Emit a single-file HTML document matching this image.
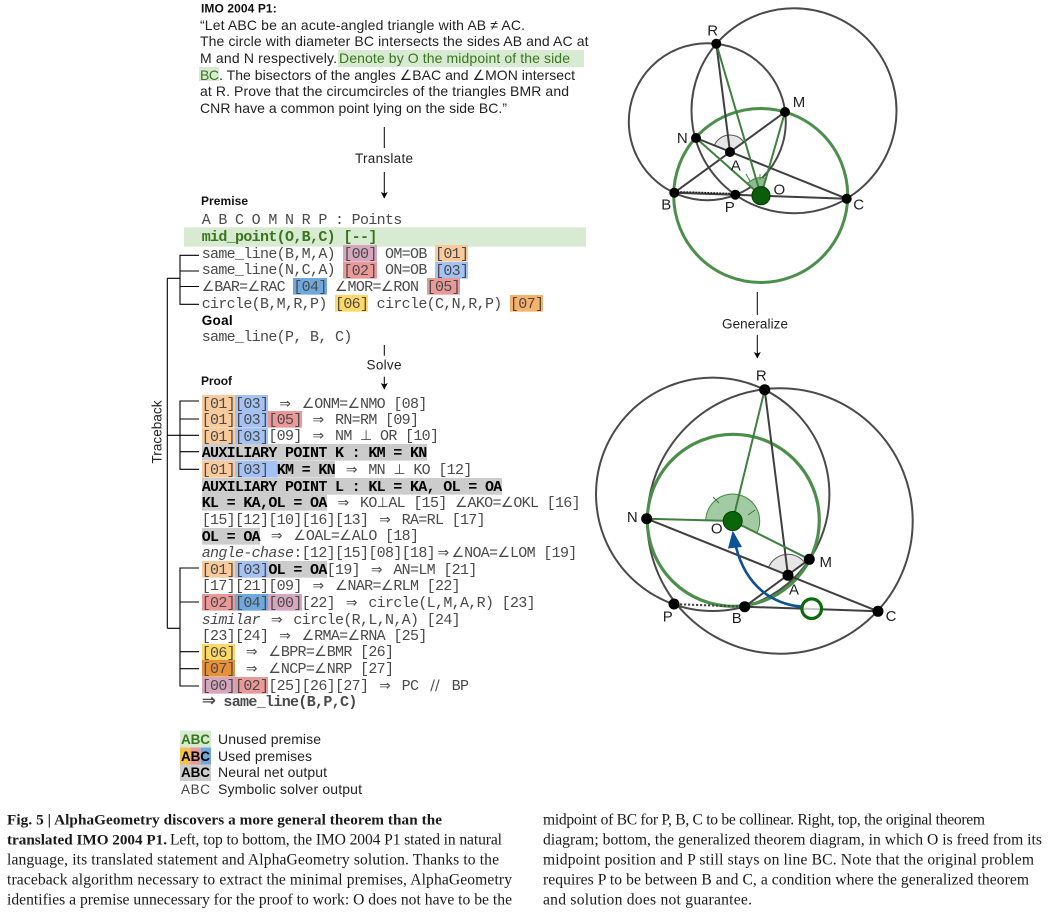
<!DOCTYPE html>
<html><head><meta charset="utf-8">
<style>
html,body{margin:0;padding:0;background:#fff;width:1057px;height:914px;overflow:hidden}
svg{position:absolute;left:0;top:0}
.l{position:absolute;left:201.7px;margin-top:1.7px;height:16.67px;font:15px/16.67px "Liberation Mono",monospace;letter-spacing:-.67px;color:#4a4a4a;white-space:pre}
.l span{background:linear-gradient(var(--c),var(--c)) 0 0/100% 16.67px no-repeat;padding-top:.83px}
.a,.i,.p,.z{display:inline-block;text-align:center;line-height:0;letter-spacing:0;font-style:normal}
.a{width:12.5px;font-size:14px;font-family:"Liberation Sans","DejaVu Sans",sans-serif}
.i{width:16.67px;font-size:13.89px;font-family:"DejaVu Sans",sans-serif}
.p{width:11.67px;font-size:13.89px;font-family:"DejaVu Sans",sans-serif}
.z{width:21.7px;font-size:17px;text-align:left;font-family:"DejaVu Sans",sans-serif}
.o{--c:#f9cb9c}.u{--c:#a4c2f4}.r{--c:#ea9999}.m{--c:#d5a6bd}.d{--c:#6fa8dc}.y{--c:#ffd966}.q{--c:#f6b26b}.w{--c:#e69138}
.g{--c:#ccc;color:#000;font-weight:bold}
em{font-style:italic}
</style></head><body>
<svg width="1057" height="914" viewBox="0 0 1057 914" font-family="'Liberation Sans',sans-serif">
<defs><marker id="ah" markerWidth="8" markerHeight="8" refX="6" refY="4" orient="auto" markerUnits="userSpaceOnUse"><path d="M0,0.5 L6.5,4 L0,7.5 L1.5,4 Z" fill="#000"/></marker></defs>

<!-- highlights -->
<rect x="338" y="50" width="246" height="17" fill="#d9ead3"/>
<rect x="199" y="67" width="20" height="14" fill="#d9ead3"/>
<rect x="184" y="227.3" width="402" height="19.4" fill="#d9ead3"/>

<!-- statement -->
<text x="201" y="12.7" font-size="12" font-weight="bold" fill="#111" textLength="75.7">IMO 2004 P1:</text>
<g font-size="14" fill="#222">
<text x="200" y="30" textLength="325">“Let ABC be an acute-angled triangle with AB ≠ AC.</text>
<text x="200" y="46" textLength="388.5">The circle with diameter BC intersects the sides AB and AC at</text>
<text x="200" y="63" textLength="137">M and N respectively.</text>
<text x="339" y="63" textLength="231" fill="#38761d">Denote by O the midpoint of the side</text>
<text x="200" y="80" textLength="19" fill="#38761d">BC</text>
<text x="219" y="80" textLength="356">. The bisectors of the angles ∠BAC and ∠MON intersect</text>
<text x="200" y="96" textLength="369">at R. Prove that the circumcircles of the triangles BMR and</text>
<text x="200" y="113" textLength="307">CNR have a common point lying on the side BC.”</text>
</g>

<!-- flow arrows -->
<g stroke="#000" stroke-width="1" fill="none">
<line x1="384.3" y1="127" x2="384.3" y2="148"/>
<line x1="384.3" y1="172" x2="384.3" y2="198" marker-end="url(#ah)"/>
<line x1="384.3" y1="345" x2="384.3" y2="355.7"/>
<line x1="384.3" y1="376.7" x2="384.3" y2="389" marker-end="url(#ah)"/>
<line x1="757.3" y1="292" x2="757.3" y2="315"/>
<line x1="757.3" y1="335" x2="757.3" y2="358" marker-end="url(#ah)"/>
</g>
<g font-size="13.5" fill="#222" text-anchor="middle">
<text x="384" y="163" textLength="58">Translate</text>
<text x="384" y="369.5" textLength="35">Solve</text>
<text x="755" y="328.5" textLength="66">Generalize</text>
</g>

<!-- section heads -->
<text x="201" y="205" font-size="12" font-weight="bold" fill="#111" textLength="47">Premise</text>
<text x="201.7" y="325" font-size="13.5" font-weight="bold" fill="#000" textLength="31">Goal</text>
<text x="201" y="385" font-size="12" font-weight="bold" fill="#111" textLength="31">Proof</text>

<!-- traceback brackets -->
<g stroke="#000" stroke-width="1.1" fill="none">
<path d="M167.3,278.3 V628.3 M167.3,278.3 H180 M167.3,435.3 H180 M167.3,628.3 H180"/>
<path d="M199,255.3 H180 V304.3 H199 M180,271 H199 M180,286.5 H199"/>
<path d="M199,401 H180 V469.3 H199 M180,419 H199 M180,435.3 H199 M180,451.7 H199"/>
<path d="M199,568 H180 V686 H199 M180,602 H199 M180,651.7 H199 M180,668.7 H199"/>
</g>
<text transform="translate(161.5,432) rotate(-90)" font-size="13.5" fill="#222" text-anchor="middle" textLength="63">Traceback</text>

<!-- legend -->
<rect x="180" y="730.5" width="31" height="17" fill="#d9ead3"/>
<rect x="180" y="747.5" width="10.4" height="17" fill="#f6c24b"/>
<rect x="190.4" y="747.5" width="10.3" height="17" fill="#ea9999"/>
<rect x="200.7" y="747.5" width="10.3" height="17" fill="#6fa8dc"/>
<rect x="180" y="764.5" width="31" height="16.5" fill="#ccc"/>
<g font-size="13.5" text-anchor="start">
<text x="181" y="744" font-weight="bold" fill="#38761d" textLength="29">ABC</text>
<text x="181" y="761" font-weight="bold" fill="#000" textLength="29">ABC</text>
<text x="181" y="777" font-weight="bold" fill="#000" textLength="29">ABC</text>
<text x="181" y="794" fill="#444" textLength="29">ABC</text>
</g>
<g font-size="14" fill="#222">
<text x="218" y="744" textLength="103">Unused premise</text>
<text x="218" y="761" textLength="94">Used premises</text>
<text x="218" y="777" textLength="109">Neural net output</text>
<text x="218" y="794" textLength="144">Symbolic solver output</text>
</g>

<!-- caption -->
<g font-family="'Liberation Serif',serif" font-size="15.6" fill="#1a1a1a">
<text x="7" y="824.5" font-size="15.2" font-weight="bold" textLength="435">Fig. 5 | AlphaGeometry discovers a more general theorem than the</text>
<text x="7" y="844.5" font-size="15.2" font-weight="bold" textLength="160">translated IMO 2004 P1.</text>
<text x="170" y="844.5" textLength="332">Left, top to bottom, the IMO 2004 P1 stated in natural</text>
<text x="7" y="864.5" textLength="492">language, its translated statement and AlphaGeometry solution. Thanks to the</text>
<text x="7" y="884.5" textLength="505">traceback algorithm necessary to extract the minimal premises, AlphaGeometry</text>
<text x="7" y="904.5" textLength="505">identifies a premise unnecessary for the proof to work: O does not have to be the</text>
<text x="543" y="824.5" textLength="442">midpoint of BC for P, B, C to be collinear. Right, top, the original theorem</text>
<text x="543" y="844.5" textLength="499">diagram; bottom, the generalized theorem diagram, in which O is freed from its</text>
<text x="543" y="864.5" textLength="491">midpoint position and P still stays on line BC. Note that the original problem</text>
<text x="543" y="884.5" textLength="486">requires P to be between B and C, a condition where the generalized theorem</text>
<text x="543" y="904.5" textLength="209">and solution does not guarantee.</text>
</g>

<!-- top diagram -->
<g fill="none">
<circle cx="707.3" cy="121.7" r="78.5" stroke="#4a4a4a" stroke-width="2"/>
<circle cx="794" cy="110.7" r="102.5" stroke="#4a4a4a" stroke-width="2"/>
<path d="M730,152 L714.3,145.5 A17,17 0 0 1 743.8,142 Z" fill="#e6e6e6" stroke="#555" stroke-width="1"/>
<path d="M761,195.7 L747.5,183.7 A18,18 0 0 1 766,178.4 Z" fill="#8fbc8f" stroke="#3d8b3d" stroke-width="1"/>
<circle cx="760.7" cy="195.5" r="87" stroke="#4b8f4b" stroke-width="3"/>
<g stroke="#3f3f3f" stroke-width="2">
<line x1="716.3" y1="43.7" x2="730" y2="152"/>
<line x1="696" y1="138" x2="846.7" y2="198.7"/>
<line x1="674.3" y1="192.7" x2="785" y2="112"/>
<line x1="674.3" y1="192.7" x2="846.7" y2="198.7"/>
</g>
<line x1="674.3" y1="191.7" x2="735.3" y2="193.7" stroke="#222" stroke-width="1.6" stroke-dasharray="2 1"/>
<g stroke="#3f7f3f" stroke-width="2">
<line x1="716.3" y1="43.7" x2="761" y2="195.7"/>
<line x1="696" y1="138" x2="761" y2="195.7"/>
<line x1="785" y1="112" x2="761" y2="195.7"/>
</g>
<g stroke="#3d8b3d" stroke-width="1">
<line x1="746" y1="174" x2="750" y2="181"/><line x1="760" y1="174" x2="760" y2="180"/>
</g>
</g>
<circle cx="761" cy="195.7" r="9" fill="#0b5d0b" stroke="#0a3d0a" stroke-width="1.2"/>
<g fill="#000">
<circle cx="716.3" cy="43.7" r="5"/><circle cx="785" cy="112" r="5"/><circle cx="696" cy="138" r="5"/><circle cx="730" cy="152" r="5"/>
<circle cx="674.3" cy="192.7" r="5"/><circle cx="735.3" cy="194.7" r="5"/><circle cx="846.7" cy="198.7" r="5"/>
</g>
<g font-size="15" fill="#222" text-anchor="middle">
<text x="712.7" y="35.5">R</text><text x="799" y="107">M</text><text x="682.3" y="142.8">N</text><text x="735.7" y="170.5">A</text>
<text x="666.3" y="209.5">B</text><text x="729.7" y="212">P</text><text x="779.3" y="194.5">O</text><text x="858.7" y="209.5">C</text>
</g>

<!-- bottom diagram -->
<g fill="none">
<circle cx="712.7" cy="494.3" r="116.7" stroke="#4a4a4a" stroke-width="2"/>
<circle cx="780" cy="521" r="132.7" stroke="#4a4a4a" stroke-width="2"/>
<path d="M788,575.3 L768.5,567.5 A21,21 0 0 1 804.8,562.7 Z" fill="#e6e6e6" stroke="#555" stroke-width="1"/>
<path d="M732.7,521 L705.7,520.3 A27,27 0 1 1 756.9,533 Z" fill="#a3cba3" stroke="#3d8b3d" stroke-width="1"/>
<circle cx="733.3" cy="520.3" r="86" stroke="#4b8f4b" stroke-width="3.2"/>
<g stroke="#3f3f3f" stroke-width="2">
<line x1="764.7" y1="389.7" x2="788" y2="575.3"/>
<line x1="646.7" y1="518.7" x2="878" y2="611.3"/>
<line x1="744.7" y1="606.7" x2="809.3" y2="559.3"/>
<line x1="744.7" y1="606.7" x2="878" y2="611.3"/>
</g>
<line x1="680" y1="604.3" x2="744.7" y2="606.7" stroke="#444" stroke-width="2" stroke-dasharray="2.2 1.8"/>
<g stroke="#3f7f3f" stroke-width="2">
<line x1="764.7" y1="389.7" x2="732.7" y2="521"/>
<line x1="646.7" y1="518.7" x2="732.7" y2="521"/>
<line x1="809.3" y1="559.3" x2="732.7" y2="521"/>
</g>
<g stroke="#2e7d32" stroke-width="1">
<line x1="713" y1="497" x2="719" y2="503"/><line x1="748" y1="515" x2="755" y2="510"/>
</g>
<path d="M801.7,606.7 C772,604 746,586 736,547" stroke="#0b5394" stroke-width="2.6"/>
</g>
<path d="M732.7,530.5 L742,547 L728,548.5 Z" fill="#0b5394"/>
<circle cx="811.7" cy="608.7" r="9.8" fill="rgba(255,255,255,.7)" stroke="#0b6b0b" stroke-width="3.2"/>
<circle cx="732.7" cy="521" r="9.5" fill="#0b660b" stroke="#0a3d0a" stroke-width="1"/>
<g fill="#000">
<circle cx="764.7" cy="389.7" r="5.5"/><circle cx="809.3" cy="559.3" r="5.5"/><circle cx="646.7" cy="518.7" r="5.5"/><circle cx="788" cy="575.3" r="5.5"/>
<circle cx="744.7" cy="606.7" r="5.5"/><circle cx="674" cy="604" r="5.5"/><circle cx="878" cy="611.3" r="5.5"/>
</g>
<g font-size="15" fill="#222" text-anchor="middle">
<text x="761.3" y="380.5">R</text><text x="825.7" y="567">M</text><text x="632.3" y="522">N</text><text x="794" y="594.5">A</text>
<text x="736.7" y="623">B</text><text x="667.7" y="621.5">P</text><text x="716.7" y="533.5">O</text><text x="891" y="621">C</text>
</g>
</svg>

<!-- premise lines -->
<div class="l" style="top:211.7px">A B C O M N R P : Points</div>
<div class="l" style="top:228.4px;color:#38761d;font-weight:bold">mid_point(O,B,C) [--]</div>
<div class="l" style="top:245px">same_line(B,M,A) <span class="m">[00]</span> OM=OB <span class="o">[01]</span></div>
<div class="l" style="top:261.7px">same_line(N,C,A) <span class="r">[02]</span> ON=OB <span class="u">[03]</span></div>
<div class="l" style="top:278.4px"><i class="a">∠</i>BAR=<i class="a">∠</i>RAC <span class="d">[04]</span> <i class="a">∠</i>MOR=<i class="a">∠</i>RON <span class="r">[05]</span></div>
<div class="l" style="top:295px">circle(B,M,R,P) <span class="y">[06]</span> circle(C,N,R,P) <span class="q">[07]</span></div>
<div class="l" style="top:328.4px">same_line(P, B, C)</div>

<!-- proof lines -->
<div class="l" style="top:395px"><span class="o">[01]</span><span class="u">[03]</span> <i class="i">⇒</i> <i class="a">∠</i>ONM=<i class="a">∠</i>NMO [08]</div>
<div class="l" style="top:411px"><span class="o">[01]</span><span class="u">[03]</span><span class="r">[05]</span> <i class="i">⇒</i> RN=RM [09]</div>
<div class="l" style="top:427.7px"><span class="o">[01]</span><span class="u">[03]</span>[09] <i class="i">⇒</i> NM <i class="p">⊥</i> OR [10]</div>
<div class="l" style="top:444.4px"><span class="g">AUXILIARY POINT K : KM = KN</span></div>
<div class="l" style="top:461px"><span class="o">[01]</span><span class="u">[03] </span><span class="g">KM = KN</span> <i class="i">⇒</i> MN <i class="p">⊥</i> KO [12]</div>
<div class="l" style="top:477.7px"><span class="g">AUXILIARY POINT L : KL = KA, OL = OA</span></div>
<div class="l" style="top:494.4px"><span class="g">KL = KA,OL = OA</span> <i class="i">⇒</i> KO<i class="p">⊥</i>AL [15] <i class="a">∠</i>AKO=<i class="a">∠</i>OKL [16]</div>
<div class="l" style="top:511px">[15][12][10][16][13] <i class="i">⇒</i> RA=RL [17]</div>
<div class="l" style="top:527.7px"><span class="g">OL = OA</span> <i class="i">⇒</i> <i class="a">∠</i>OAL=<i class="a">∠</i>ALO [18]</div>
<div class="l" style="top:544.4px"><em>angle-chase</em>:[12][15][08][18]<i class="i">⇒</i><i class="a">∠</i>NOA=<i class="a">∠</i>LOM [19]</div>
<div class="l" style="top:561px"><span class="o">[01]</span><span class="u">[03]</span><span class="g">OL = OA</span>[19] <i class="i">⇒</i> AN=LM [21]</div>
<div class="l" style="top:577.7px">[17][21][09] <i class="i">⇒</i> <i class="a">∠</i>NAR=<i class="a">∠</i>RLM [22]</div>
<div class="l" style="top:594.4px"><span class="r">[02]</span><span class="d">[04]</span><span class="m">[00]</span>[22] <i class="i">⇒</i> circle(L,M,A,R) [23]</div>
<div class="l" style="top:611px"><em>similar</em> <i class="i">⇒</i> circle(R,L,N,A) [24]</div>
<div class="l" style="top:627px">[23][24] <i class="i">⇒</i> <i class="a">∠</i>RMA=<i class="a">∠</i>RNA [25]</div>
<div class="l" style="top:643.7px"><span class="y">[06]</span> <i class="i">⇒</i> <i class="a">∠</i>BPR=<i class="a">∠</i>BMR [26]</div>
<div class="l" style="top:660.4px"><span class="w">[07]</span> <i class="i">⇒</i> <i class="a">∠</i>NCP=<i class="a">∠</i>NRP [27]</div>
<div class="l" style="top:677px"><span class="m">[00]</span><span class="r">[02]</span>[25][26][27] <i class="i">⇒</i> PC <i class="i">//</i> BP</div>
<div class="l" style="top:693.7px;font-weight:bold"><i class="z">⇒</i>same_line(B,P,C)</div>
</body></html>
